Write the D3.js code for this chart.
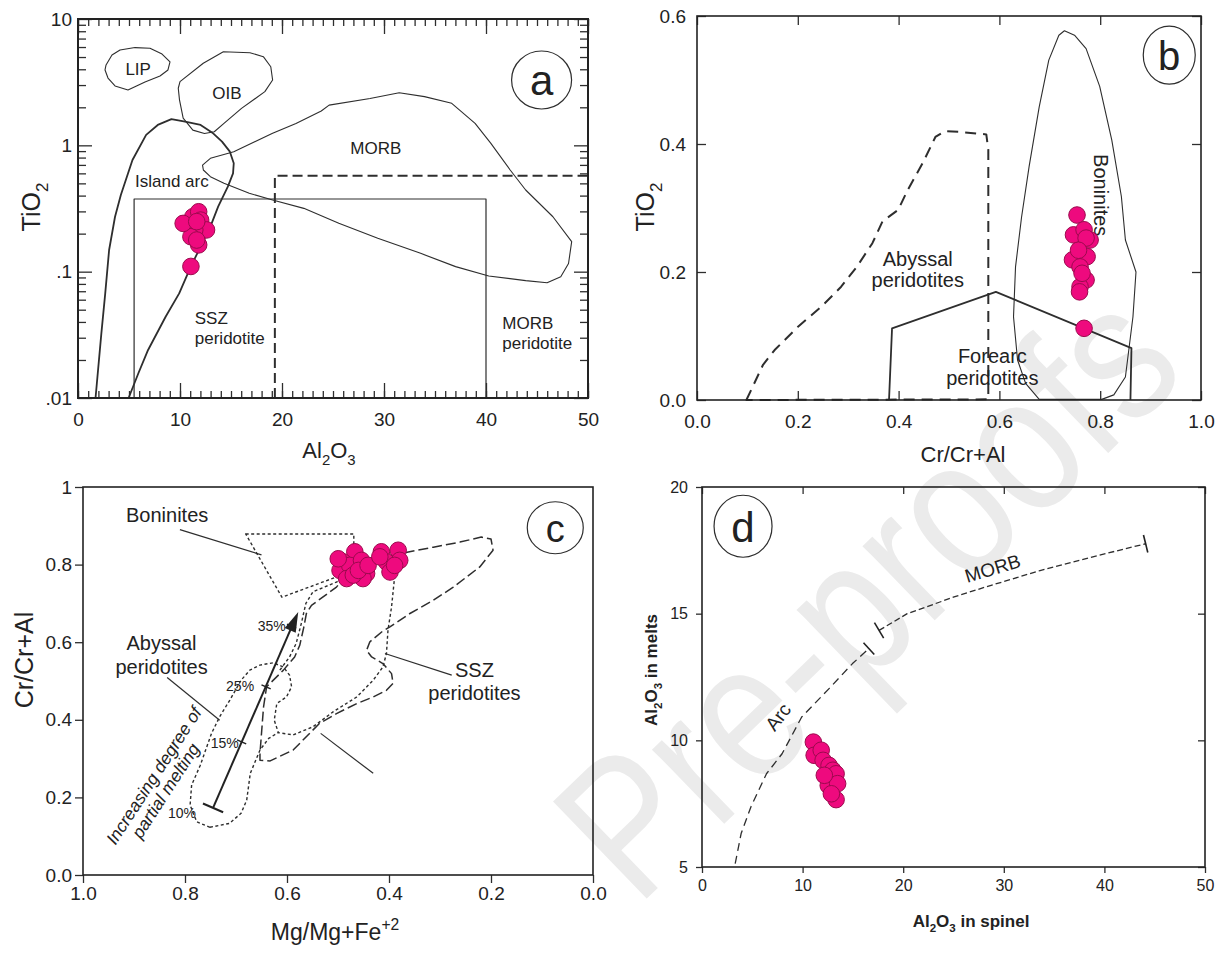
<!DOCTYPE html>
<html>
<head>
<meta charset="utf-8">
<script src="https://cdn.jsdelivr.net/npm/d3@7"></script>
<style>
  body { margin: 0; background: #fff; }
  svg { display: block; }
</style>
</head>
<body>
<svg id="fig" width="1225" height="956"></svg>
<script>
// ---------- panel a : TiO2 vs Al2O3 (log y) ----------
var ptsA = [[11.07,0.11],[10.69,0.241],[11.26,0.272],[11.83,0.298],[12.02,0.256],[12.60,0.214],
            [11.45,0.214],[11.07,0.189],[11.83,0.163],[11.64,0.178],[10.31,0.241],[11.64,0.249]];
var lipField = [[2.75,4.33],[3.33,5.19],[4.12,5.69],[5.59,5.94],[7.06,5.86],[8.24,5.28],[9.02,4.57],
                [8.82,3.95],[8.04,3.54],[6.57,3.17],[4.90,2.74],[3.63,2.95],[2.94,3.41],[2.65,3.95]];
var oibField = [[9.83,2.83],[10.0,3.19],[12.28,4.46],[14.25,5.51],[16.86,5.41],[18.17,5.03],[18.9,4.19],
                [19.08,3.29],[18.32,2.66],[16.03,1.96],[14.31,1.49],[13.36,1.28],[12.40,1.24],[11.26,1.32],
                [10.31,1.64],[9.95,2.29]];
var islandArc = [[1.72,0.01],[2.29,0.0325],[2.67,0.0673],[3.05,0.1485],[3.63,0.272],[4.20,0.404],[5.34,0.766],
                 [6.68,1.21],[7.82,1.45],[9.16,1.61],[10.50,1.54],[12.02,1.45],[13.17,1.26],[14.12,1.07],
                 [14.89,0.891],[15.27,0.721],[15.2,0.60],[14.69,0.471],[13.74,0.327],[12.98,0.227],
                 [12.02,0.158],[11.07,0.11],[9.92,0.0673],[8.59,0.044],[6.87,0.024],[5.92,0.0157],[4.96,0.01]];
var morbField = [[12.21,0.698],[12.98,0.789],[15.27,0.891],[19.08,1.245],[21.37,1.49],[23.85,1.87],[24.62,2.08],
                 [28.63,2.35],[31.49,2.61],[33.97,2.43],[36.64,2.15],[38.93,1.49],[40.46,1.04],[42.37,0.638],
                 [43.89,0.443],[46.56,0.272],[48.40,0.173],[48.09,0.116],[47.33,0.0912],[45.99,0.0818],
                 [43.89,0.0849],[40.27,0.0925],[37.02,0.1096],[33.59,0.1397],[29.39,0.1836],[25.57,0.2415],
                 [22.14,0.317],[19.08,0.369],[16.79,0.417],[14.31,0.500],[12.98,0.565],[12.29,0.638]];
var sszBox = [[5.5,0.01],[5.5,0.376],[40,0.376],[40,0.01]];
var morbPerBox = [[19.3,0.01],[19.3,0.575],[50,0.575]];
var labelsA = [["LIP",5.9,4.0,"middle"],["OIB",14.6,2.58,"middle"],["MORB",29.2,0.95,"middle"],
               ["Island arc",9.2,0.515,"middle"],["SSZ",11.45,0.0426,"start"],["peridotite",11.45,0.0297,"start"],
               ["MORB",41.6,0.039,"start"],["peridotite",41.6,0.027,"start"]];
var ticksAx = [0,10,20,30,40,50];
var ticksAy = [0.01,0.1,1,10];
var tickLabelsAy = [".01",".1","1","10"];

// ---------- panel b : TiO2 vs Cr# ----------
var ptsB = [[0.754,0.289],[0.747,0.258],[0.768,0.266],[0.780,0.250],[0.772,0.253],[0.745,0.219],[0.774,0.224],
            [0.760,0.208],[0.772,0.1875],[0.760,0.177],[0.759,0.169],[0.768,0.112],[0.757,0.234],[0.764,0.198]];
var abyssalB = [[0.098,0],[0.131,0.055],[0.154,0.078],[0.201,0.115],[0.247,0.146],[0.286,0.177],[0.317,0.208],
                [0.348,0.245],[0.368,0.279],[0.399,0.297],[0.418,0.328],[0.449,0.372],[0.473,0.411],[0.492,0.420],
                [0.519,0.419],[0.574,0.415],[0.578,0.391],[0.578,0.001]];
var forearcB = [[0.381,0],[0.387,0.112],[0.593,0.169],[0.862,0.081],[0.860,0]];
var boniniteB = [[0.679,0.001],[0.652,0.026],[0.636,0.0625],[0.628,0.130],[0.632,0.208],[0.644,0.286],[0.659,0.365],
                 [0.679,0.458],[0.698,0.531],[0.718,0.570],[0.729,0.577],[0.749,0.570],[0.772,0.549],[0.799,0.490],
                 [0.823,0.406],[0.842,0.318],[0.850,0.250],[0.871,0.200],[0.865,0.130],[0.850,0.036],[0.827,0.008],
                 [0.803,0.001]];
var labelsB = [["Abyssal",0.438,0.221],["peridotites",0.438,0.1875],["Forearc",0.586,0.068],["peridotites",0.586,0.034]];
var ticksB = [0,0.2,0.4,0.6,0.8,1.0];
var ticksBy = [0,0.2,0.4,0.6];

// ---------- panel c : Cr# vs Mg# ----------
var ptsC = [[0.467,0.833],[0.490,0.807],[0.496,0.785],[0.477,0.798],[0.454,0.811],[0.444,0.777],[0.451,0.764],
            [0.483,0.764],[0.470,0.773],[0.460,0.785],[0.4995,0.815],[0.441,0.798],
            [0.415,0.833],[0.382,0.837],[0.405,0.807],[0.379,0.811],[0.398,0.781],[0.389,0.798],[0.418,0.820]];
var boniniteC = [[0.681,0.879],[0.469,0.879],[0.469,0.855],[0.493,0.773],[0.610,0.716]];
var abyssalC = [[0.751,0.123],[0.777,0.137],[0.790,0.180],[0.787,0.232],[0.770,0.283],[0.748,0.365],[0.732,0.408],
                [0.712,0.451],[0.690,0.502],[0.673,0.528],[0.653,0.541],[0.627,0.547],[0.607,0.536],[0.595,0.515],
                [0.591,0.485],[0.601,0.459],[0.620,0.442],[0.625,0.399],[0.617,0.367],[0.588,0.361],[0.549,0.382],
                [0.509,0.421],[0.463,0.459],[0.431,0.502],[0.412,0.536],[0.405,0.571],[0.402,0.631],[0.395,0.691],
                [0.389,0.768]];
var abyssalTongue = [[0.614,0.528],[0.595,0.562],[0.582,0.597],[0.572,0.648],[0.563,0.700],[0.549,0.730],
                     [0.503,0.755],[0.476,0.777]];
var abyssalBase = [[0.751,0.123],[0.713,0.133],[0.690,0.159],[0.679,0.193],[0.672,0.262],[0.653,0.322],
                   [0.636,0.352],[0.617,0.367]];
var sszC = [[0.492,0.760],[0.434,0.815],[0.379,0.828],[0.313,0.845],[0.261,0.858],[0.219,0.871],[0.200,0.866],
            [0.196,0.837],[0.222,0.794],[0.274,0.742],[0.313,0.708],[0.359,0.674],[0.399,0.639],[0.412,0.629],
            [0.4375,0.601],[0.444,0.579],[0.434,0.562],[0.412,0.545],[0.395,0.519],[0.392,0.494],[0.405,0.476],
            [0.431,0.459],[0.463,0.442],[0.503,0.416],[0.536,0.391],[0.588,0.322],[0.633,0.294],[0.653,0.296],
            [0.653,0.313],[0.650,0.365],[0.646,0.433],[0.640,0.485],[0.607,0.528],[0.585,0.562],[0.575,0.592],
            [0.567,0.639],[0.562,0.674],[0.552,0.695],[0.503,0.742]];
var pointersC = [[[0.81,0.89],[0.65,0.825]],[[0.835,0.509],[0.732,0.399]],
                 [[0.277,0.515],[0.408,0.571]],[[0.534,0.365],[0.431,0.262]]];
var meltSteps = [["10%",0.745,0.173,0.806,0.159],["15%",0.689,0.343,0.722,0.339],
                 ["25%",0.641,0.485,0.692,0.487],["35%",0.591,0.641,0.630,0.642]];
var meltTip = [0.578,0.678];
var labelsC = [["Boninites",0.835,0.927],["Abyssal",0.846,0.597],["peridotites",0.846,0.536],
               ["SSZ",0.2325,0.528],["peridotites",0.2325,0.468]];
var ticksC = [1.0,0.8,0.6,0.4,0.2,0.0];
var ticksCy = [0,0.2,0.4,0.6,0.8,1];

// ---------- panel d : Al2O3 melt vs Al2O3 spinel ----------
var ptsD = [[11.07,9.93],[11.15,9.41],[11.85,9.61],[12.04,9.21],[12.63,9.01],[13.01,8.82],[13.33,8.68],
            [12.55,8.22],[13.48,8.29],[13.33,7.66],[12.86,7.89],[12.16,8.62]];
var arcTrend = [[3.30,5.13],[3.89,6.32],[4.86,7.37],[6.41,8.68],[7.96,9.47],[9.91,10.92],[12.63,12.04],
                [14.96,13.03],[16.59,13.62]];
var morbTrend = [[17.60,14.34],[20.4,15.0],[25.06,15.66],[28.17,16.05],[33.6,16.7],[39.4,17.3],[44.1,17.76]];
var ticksD = [0,10,20,30,40,50];
var ticksDy = [5,10,15,20];

// ---------- drawing ----------
var svg = d3.select("#fig");
var INK = "#2e2e2e";
var PINK = "#ee0a7e", PINK_EDGE = "#9c0a4e";
var NARROW = "'Liberation Sans Narrow','Arial Narrow','Liberation Sans',Arial,sans-serif";
var SANS = "'Liberation Sans',Arial,sans-serif";

// watermark (behind everything)
svg.append("text")
    .attr("transform", "translate(866,592) rotate(-44) scale(0.84,1)")
    .attr("text-anchor", "middle")
    .attr("dominant-baseline", "central")
    .style("font-family", SANS)
    .style("font-size", "196px")
    .attr("fill", "#ebebeb")
    .text("Pre-proofs");

function drawPath(g, pts, x, y, o) {
    var line = d3.line().x(function(d){ return x(d[0]) }).y(function(d){ return y(d[1]) });
    return g.append("path")
        .attr("d", line(pts) + (o.closed ? "Z" : ""))
        .attr("fill", "none")
        .attr("stroke", o.color || INK)
        .attr("stroke-width", o.width || 1.2)
        .attr("stroke-dasharray", o.dash || null)
        .attr("stroke-linejoin", "round");
}

function drawPoints(g, pts, x, y) {
    g.selectAll(null).data(pts).enter().append("circle")
        .attr("cx", function(d){ return x(d[0]) })
        .attr("cy", function(d){ return y(d[1]) })
        .attr("r", 8.3)
        .attr("fill", PINK)
        .attr("stroke", PINK_EDGE)
        .attr("stroke-width", 1);
}

function label(g, txt, px, py, size, font, anchor) {
    return g.append("text")
        .attr("x", px).attr("y", py)
        .attr("text-anchor", anchor || "middle")
        .attr("dominant-baseline", "central")
        .style("font-family", font)
        .style("font-size", size + "px")
        .attr("fill", "#222")
        .text(txt);
}

// parts: [text, shift] with shift 1 = subscript, -1 = superscript
function richText(g, parts, size, font, weight) {
    var t = g.append("text")
        .attr("text-anchor", "middle")
        .style("font-family", font)
        .style("font-size", size + "px")
        .style("font-weight", weight || "normal")
        .attr("fill", "#222");
    var cur = 0;
    parts.forEach(function(p) {
        var target = p[1] === 1 ? size * 0.3 : p[1] === -1 ? -size * 0.45 : 0;
        t.append("tspan")
            .attr("dy", target - cur)
            .style("font-size", p[1] ? (size * 0.68) + "px" : null)
            .text(p[0]);
        cur = target;
    });
    return t;
}

function badge(g, letter, cx, cy, rx, ry, size) {
    g.append("ellipse").attr("cx", cx).attr("cy", cy).attr("rx", rx).attr("ry", ry)
        .attr("fill", "#fff").attr("stroke", INK).attr("stroke-width", 1.2);
    g.append("text").attr("x", cx).attr("y", cy + size * 0.02)
        .attr("text-anchor", "middle").attr("dominant-baseline", "central")
        .style("font-family", SANS).style("font-size", size + "px")
        .attr("fill", "#222").text(letter);
}

function axis(g, gen, tr, size, font) {
    var s = g.append("g").attr("transform", tr).call(gen);
    s.select(".domain").remove();
    s.selectAll("line").attr("stroke", INK).attr("stroke-width", 1.3);
    s.selectAll("text").style("font-family", font || NARROW).style("font-size", (size || 19) + "px").attr("fill", "#222");
    return s;
}

function frame(g, x, y, w) {
    var xr = x.range(), yr = y.range();
    g.append("rect")
        .attr("x", Math.min(xr[0], xr[1])).attr("y", Math.min(yr[0], yr[1]))
        .attr("width", Math.abs(xr[1] - xr[0])).attr("height", Math.abs(yr[1] - yr[0]))
        .attr("fill", "none").attr("stroke", "#222").attr("stroke-width", w || 1.6);
}

// ===== panel a =====
var gA = svg.append("g");
var xA = d3.scaleLinear().domain([0, 50]).range([78, 588]);
var yA = d3.scaleLog().domain([0.01, 10]).range([398, 19]);
var minorX = d3.range(0, 51);
var minorY = [0.01, 0.1, 1].flatMap(function(d){ return d3.range(2, 10).map(function(k){ return k * d }) });

axis(gA, d3.axisBottom(xA).tickValues(minorX).tickSize(-7).tickFormat(""), "translate(0,398)");
axis(gA, d3.axisBottom(xA).tickValues(ticksAx).tickSize(-15).tickPadding(15).tickFormat(d3.format("d")), "translate(0,398)");
axis(gA, d3.axisTop(xA).tickValues(minorX).tickSize(-7).tickFormat(""), "translate(0,19)");
axis(gA, d3.axisTop(xA).tickValues(ticksAx).tickSize(-15).tickFormat(""), "translate(0,19)");
axis(gA, d3.axisLeft(yA).tickValues(minorY).tickSize(-8).tickFormat(""), "translate(78,0)");
axis(gA, d3.axisLeft(yA).tickValues(ticksAy).tickSize(-14).tickPadding(6)
    .tickFormat(function(d, i){ return tickLabelsAy[i] }), "translate(78,0)");
axis(gA, d3.axisRight(yA).tickValues(minorY).tickSize(-8).tickFormat(""), "translate(588,0)");
axis(gA, d3.axisRight(yA).tickValues(ticksAy).tickSize(-14).tickFormat(""), "translate(588,0)");

drawPath(gA, lipField, xA, yA, {closed: true, width: 1.1});
drawPath(gA, oibField, xA, yA, {closed: true, width: 1.1});
drawPath(gA, morbField, xA, yA, {closed: true, width: 1.1});
drawPath(gA, islandArc, xA, yA, {width: 1.8});
drawPath(gA, sszBox, xA, yA, {width: 1.2});
drawPath(gA, morbPerBox, xA, yA, {width: 2, dash: "10,5"});
labelsA.forEach(function(l){ label(gA, l[0], xA(l[1]), yA(l[2]), 17, SANS, l[3]) });
drawPoints(gA, ptsA, xA, yA);
frame(gA, xA, yA, 2);
badge(gA, "a", xA(45.45), yA(3.29), 30, 29, 42);

richText(gA, [["TiO", 0], ["2", 1]], 25, SANS).attr("transform", "translate(40,207) rotate(-90)");
richText(gA, [["Al", 0], ["2", 1], ["O", 0], ["3", 1]], 22, SANS).attr("transform", "translate(329,458)");

// ===== panel b =====
var gB = svg.append("g");
var xB = d3.scaleLinear().domain([0, 1]).range([697, 1201]);
var yB = d3.scaleLinear().domain([0, 0.6]).range([400, 16]);
var fmt1 = d3.format(".1f");
axis(gB, d3.axisBottom(xB).tickValues(ticksB).tickSize(-9).tickPadding(15).tickFormat(fmt1), "translate(0,400)");
axis(gB, d3.axisTop(xB).tickValues(ticksB).tickSize(-9).tickFormat(""), "translate(0,16)");
axis(gB, d3.axisLeft(yB).tickValues(ticksBy).tickSize(-9).tickPadding(11).tickFormat(fmt1), "translate(697,0)");
axis(gB, d3.axisRight(yB).tickValues(ticksBy).tickSize(-9).tickFormat(""), "translate(1201,0)");

drawPath(gB, abyssalB, xB, yB, {closed: true, width: 2, dash: "11,7"});
drawPath(gB, boniniteB, xB, yB, {closed: true, width: 1.1});
drawPath(gB, forearcB, xB, yB, {width: 1.8});
labelsB.forEach(function(l){ label(gB, l[0], xB(l[1]), yB(l[2]), 20, SANS) });
label(gB, "Boninites", xB(0.802), yB(0.32), 20, SANS).attr("transform", "rotate(90," + xB(0.802) + "," + yB(0.32) + ")");
drawPoints(gB, ptsB, xB, yB);
frame(gB, xB, yB, 1.6);
badge(gB, "b", xB(0.937), yB(0.539), 26, 29, 40);

richText(gB, [["TiO", 0], ["2", 1]], 25, SANS).attr("transform", "translate(654,207) rotate(-90)");
richText(gB, [["Cr/Cr+Al", 0]], 22, SANS).attr("transform", "translate(963,462)");

// ===== panel c =====
var gC = svg.append("g");
var xC = d3.scaleLinear().domain([1, 0]).range([83, 593]);
var yC = d3.scaleLinear().domain([0, 1]).range([875, 487]);
axis(gC, d3.axisBottom(xC).tickValues(ticksC).tickSize(8).tickPadding(4).tickFormat(fmt1), "translate(0,875)");
axis(gC, d3.axisLeft(yC).tickValues(ticksCy).tickSize(8).tickPadding(3)
    .tickFormat(function(d){ return d === 1 ? "1" : fmt1(d) }), "translate(83,0)");

drawPath(gC, boniniteC, xC, yC, {closed: true, width: 1.4, dash: "3,2.5"});
drawPath(gC, abyssalC, xC, yC, {width: 1.4, dash: "3,2.5"});
drawPath(gC, abyssalTongue, xC, yC, {width: 1.4, dash: "3,2.5"});
drawPath(gC, abyssalBase, xC, yC, {width: 1.4, dash: "3,2.5"});
drawPath(gC, sszC, xC, yC, {closed: true, width: 1.5, dash: "10,4"});
pointersC.forEach(function(p){ drawPath(gC, p, xC, yC, {width: 1.2}) });

// partial melting trend with arrow
var m0 = [xC(meltSteps[0][1]), yC(meltSteps[0][2])], m1 = [xC(meltTip[0]), yC(meltTip[1])];
var ang = Math.atan2(m1[1] - m0[1], m1[0] - m0[0]);
var ux = Math.cos(ang), uy = Math.sin(ang);
gC.append("line").attr("x1", m0[0]).attr("y1", m0[1])
    .attr("x2", m1[0] - ux * 12).attr("y2", m1[1] - uy * 12)
    .attr("stroke", "#222").attr("stroke-width", 2);
gC.append("path")
    .attr("d", "M" + m1[0] + "," + m1[1] +
        "L" + (m1[0] - ux * 20 - uy * 6) + "," + (m1[1] - uy * 20 + ux * 6) +
        "L" + (m1[0] - ux * 20 + uy * 6) + "," + (m1[1] - uy * 20 - ux * 6) + "Z")
    .attr("fill", "#222");
meltSteps.forEach(function(s, i) {
    var px = xC(s[1]), py = yC(s[2]), half = i === 0 ? 11 : 5;
    gC.append("line")
        .attr("x1", px - uy * half).attr("y1", py + ux * half)
        .attr("x2", px + uy * half).attr("y2", py - ux * half)
        .attr("stroke", "#222").attr("stroke-width", i === 0 ? 2 : 1.5);
    label(gC, s[0], xC(s[3]), yC(s[4]), 14, NARROW);
});
label(gC, "Increasing degree of", xC(0.861), yC(0.256), 17.5, SANS)
    .style("font-style", "italic")
    .attr("transform", "rotate(-57," + xC(0.861) + "," + yC(0.256) + ")");
label(gC, "partial melting", xC(0.838), yC(0.217), 17.5, SANS)
    .style("font-style", "italic")
    .attr("transform", "rotate(-57," + xC(0.838) + "," + yC(0.217) + ")");
labelsC.forEach(function(l){ label(gC, l[0], xC(l[1]), yC(l[2]), 20, SANS) });
drawPoints(gC, ptsC, xC, yC);
frame(gC, xC, yC, 1.6);
badge(gC, "c", xC(0.074), yC(0.895), 28, 26, 38);

richText(gC, [["Cr/Cr+Al", 0]], 25, SANS).attr("transform", "translate(33,660) rotate(-90)");
richText(gC, [["Mg/Mg+Fe", 0], ["+2", -1]], 23, SANS).attr("transform", "translate(335,940)");

// ===== panel d =====
var gD = svg.append("g");
var xD = d3.scaleLinear().domain([0, 50]).range([702, 1205]);
var yD = d3.scaleLinear().domain([5, 20]).range([867, 487]);
axis(gD, d3.axisBottom(xD).tickValues(ticksD).tickSize(6).tickPadding(7).tickFormat(d3.format("d")), "translate(0,867)", 16);
axis(gD, d3.axisTop(xD).tickValues(ticksD).tickSize(-7).tickFormat(""), "translate(0,487)");
axis(gD, d3.axisLeft(yD).tickValues(ticksDy).tickSize(6).tickPadding(8).tickFormat(d3.format("d")), "translate(702,0)", 16);
axis(gD, d3.axisRight(yD).tickValues(ticksDy).tickSize(-7).tickFormat(""), "translate(1205,0)");

drawPath(gD, arcTrend, xD, yD, {width: 1.3, dash: "8,5"});
drawPath(gD, morbTrend, xD, yD, {width: 1.3, dash: "6,3"});

function endBar(g, p, q, half) {
    var a = [xD(p[0]), yD(p[1])], b = [xD(q[0]), yD(q[1])];
    var t = Math.atan2(b[1] - a[1], b[0] - a[0]);
    g.append("line")
        .attr("x1", a[0] - Math.sin(t) * half).attr("y1", a[1] + Math.cos(t) * half)
        .attr("x2", a[0] + Math.sin(t) * half).attr("y2", a[1] - Math.cos(t) * half)
        .attr("stroke", "#222").attr("stroke-width", 1.6);
}
endBar(gD, arcTrend[arcTrend.length - 1], arcTrend[arcTrend.length - 2], 8);
endBar(gD, morbTrend[0], morbTrend[1], 9);
endBar(gD, morbTrend[morbTrend.length - 1], morbTrend[morbTrend.length - 2], 9);

label(gD, "Arc", xD(7.58), yD(10.92), 19, SANS).attr("transform", "rotate(-53," + xD(7.58) + "," + yD(10.92) + ")");
label(gD, "MORB", xD(28.9), yD(16.78), 19, SANS).attr("transform", "rotate(-17," + xD(28.9) + "," + yD(16.78) + ")");
drawPoints(gD, ptsD, xD, yD);
frame(gD, xD, yD, 1.6);
badge(gD, "d", xD(4.08), yD(18.45), 29, 31, 42);

richText(gD, [["Al", 0], ["2", 1], ["O", 0], ["3", 1], [" in melts", 0]], 17, SANS, "bold")
    .attr("transform", "translate(657,670) rotate(-90)");
richText(gD, [["Al", 0], ["2", 1], ["O", 0], ["3", 1], [" in spinel", 0]], 17, SANS, "bold")
    .attr("transform", "translate(971,927)");
</script>
</body>
</html>
